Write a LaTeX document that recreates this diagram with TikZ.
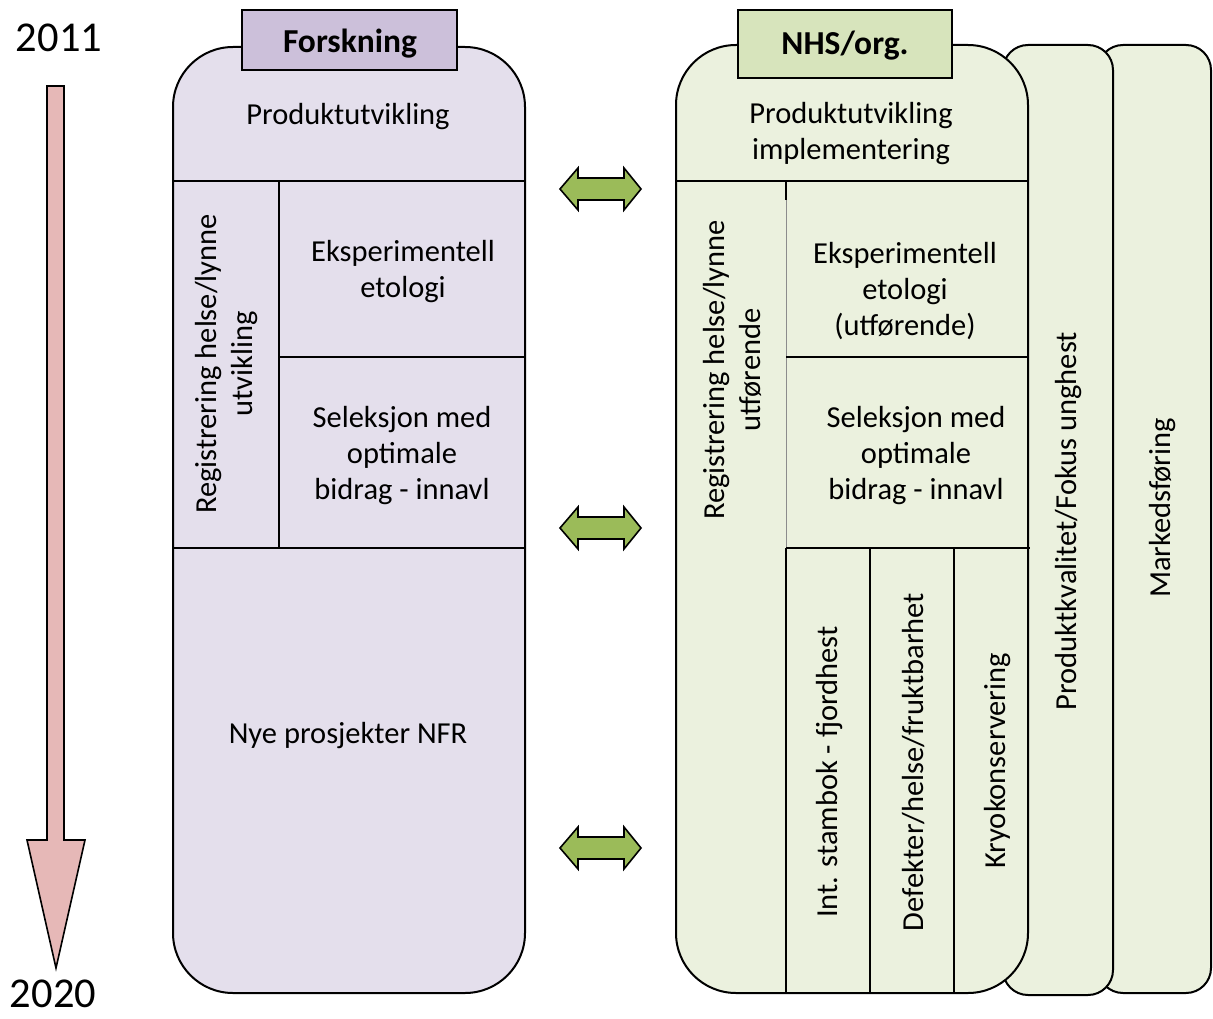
\documentclass[tikz,border=0pt]{standalone}
\usepackage{fontspec}
\setmainfont{Carlito}
\definecolor{lav}{HTML}{E4DFEC}
\definecolor{lavtab}{HTML}{CCC0DA}
\definecolor{grn}{HTML}{EBF1DE}
\definecolor{grntab}{HTML}{D7E4BC}
\definecolor{arrgrn}{HTML}{9BBB59}
\definecolor{pink}{HTML}{E6B8B7}
\begin{document}
\begin{tikzpicture}[x=1pt,y=-1pt,
  outl/.style={draw=black,line width=2pt},
  sep/.style={draw=black,line width=1.8pt},
  thin sep/.style={draw=black!45,line width=1pt},
  txt/.style={font=\fontsize{30.5}{36}\selectfont,align=center,inner sep=0pt},
  tabtxt/.style={font=\fontsize{33.5}{38}\selectfont\bfseries,inner sep=0pt},
  year/.style={font=\fontsize{42.5}{48}\selectfont,inner sep=0pt}]
\useasboundingbox (0,0) rectangle (1213,1019);

% timeline
\node[year] (y1) at (59,38) {2011};
\node[year] (y2) at (53,994) {2020};
\draw[outl,fill=pink,line width=1.6pt,line join=miter]
  (47,86) -- (64,86) -- (64,840) -- (85,840) -- (56,968) -- (27,840) -- (47,840) -- cycle;

% left column (Forskning)
\draw[outl,fill=lav,rounded corners=60pt] (173,47) rectangle (525,993);
\draw[sep] (173,181) -- (525,181);
\draw[sep] (279,181) -- (279,548);
\draw[sep] (279,357) -- (525,357);
\draw[sep] (173,548) -- (525,548);
\draw[outl,fill=lavtab] (242,10) rectangle (457,70);
\node[tabtxt] (forsk) at (350,44) {Forskning};
\node[txt] (lprod) at (348,117) {Produktutvikling};
\node[txt,rotate=90] (lreg) at (227,364) {Registrering helse/lynne\\utvikling};
\node[txt] (leks) at (403,272) {Eksperimentell\\etologi};
\node[txt] (lsel) at (402,456) {Seleksjon med\\optimale\\bidrag - innavl};
\node[txt] (lnye) at (348,736) {Nye prosjekter NFR};

% double arrows
\foreach \yy in {189,528,848}{
  \draw[outl,fill=arrgrn,line width=1.6pt,line join=miter]
    (560,\yy) -- (578,\yy-21) -- (578,\yy-11) -- (624,\yy-11) -- (624,\yy-21)
    -- (641,\yy) -- (624,\yy+21) -- (624,\yy+11) -- (578,\yy+11) -- (578,\yy+21) -- cycle;
}

% back boxes (right)
\draw[outl,fill=grn,rounded corners=25pt] (1098,45) rectangle (1211,993);
\draw[outl,fill=grn,rounded corners=25pt] (1003,45) rectangle (1113,995);

% right column (NHS/org.)
\draw[outl,fill=grn,rounded corners=60pt] (676,45) rectangle (1028,993);
\draw[sep] (676,181) -- (1028,181);
\draw[thin sep] (786,181) -- (786,548);
\draw[sep] (786,181) -- (786,200);
\draw[sep] (786,357) -- (1028,357);
\draw[sep] (786,548) -- (1030,548);
\draw[sep] (786,548) -- (786,993);
\draw[sep] (870,548) -- (870,993);
\draw[sep] (954,548) -- (954,993);
\draw[outl,fill=grntab] (738,10) rectangle (952,78);
\node[tabtxt] (nhs) at (845,46) {NHS/org.};
\node[txt] (rprod) at (851,134) {Produktutvikling\\implementering};
\node[txt,rotate=90] (rreg) at (732,370) {Registrering helse/lynne\\utførende};
\node[txt] (reks) at (905,291) {Eksperimentell\\etologi\\(utførende)};
\node[txt] (rsel) at (916,456) {Seleksjon med\\optimale\\bidrag - innavl};
\node[txt,rotate=90] (rint) at (830,772) {Int. stambok - fjordhest};
\node[txt,rotate=90] (rdef) at (914,762) {Defekter/helse/fruktbarhet};
\node[txt,rotate=90] (rkryo) at (998,761) {Kryokonservering};
\node[txt,rotate=90] (rpk) at (1069,521) {Produktkvalitet/Fokus unghest};
\node[txt,rotate=90] (rmark) at (1163,508) {Markedsføring};
\end{tikzpicture}
\end{document}
